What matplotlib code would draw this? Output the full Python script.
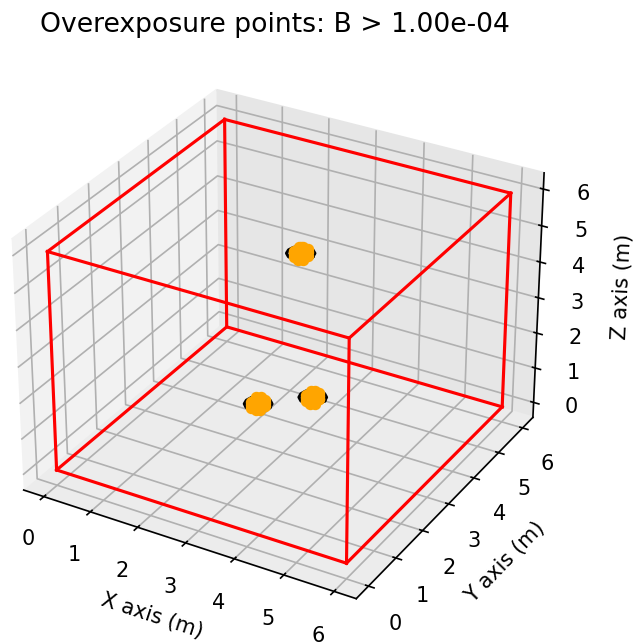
import numpy as np
import matplotlib
matplotlib.use("Agg")
import matplotlib.pyplot as plt

# room box (m)
room_x = [0, 6]
room_y = [0, 6]
room_z = [0, 6]

# source positions (m)
src_x = [3.22, 2.62, 3.37]
src_y = [3.25, 2.75, 3.45]
src_z = [5.08, 1.0, 1.0]

# loop outline offsets around each source (m)
loop_dx = [0.25, 0.22, 0.125, 0.0, -0.125, -0.22, -0.25, -0.22, -0.125, 0.0, 0.125, 0.22, 0.25]
loop_dy = [0.0, 0.125, 0.22, 0.25, 0.22, 0.125, 0.0, -0.125, -0.22, -0.25, -0.22, -0.125, 0.0]

# sample points flagged above threshold, offsets from the source (m)
hit_dx = [0.0, 0.13, -0.13, 0.0, 0.0, 0.0, 0.0, 0.09, -0.09, 0.09, -0.09, 0.09, -0.09, 0.09, -0.09,
          0.09, -0.09, 0.09, -0.09, 0.0, 0.0, 0.0, 0.0]
hit_dy = [0.0, 0.0, 0.0, 0.13, -0.13, 0.0, 0.0, 0.09, 0.09, -0.09, -0.09, 0.09, 0.09, -0.09, -0.09,
          0.09, 0.09, -0.09, -0.09, 0.09, -0.09, 0.09, -0.09]
hit_dz = [0.0, 0.0, 0.0, 0.0, 0.0, 0.16, -0.16, 0.09, 0.09, 0.09, 0.09, -0.09, -0.09, -0.09, -0.09,
          0.0, 0.0, 0.0, 0.0, 0.12, 0.12, -0.12, -0.12]

threshold = 1.0e-4

W, H = 637, 643
fig = plt.figure(figsize=(W / 150, H / 150), dpi=150)
S = 592
ax = fig.add_axes([(275 - S / 2) / W, (H - 44 - S) / H, S / W, S / H], projection="3d")

# room edges
x0, x1 = room_x
y0, y1 = room_y
z0, z1 = room_z
edges = [
    ([x0, x1], [y0, y0], [z0, z0]), ([x0, x1], [y1, y1], [z0, z0]),
    ([x0, x1], [y0, y0], [z1, z1]), ([x0, x1], [y1, y1], [z1, z1]),
    ([x0, x0], [y0, y1], [z0, z0]), ([x1, x1], [y0, y1], [z0, z0]),
    ([x0, x0], [y0, y1], [z1, z1]), ([x1, x1], [y0, y1], [z1, z1]),
    ([x0, x0], [y0, y0], [z0, z1]), ([x1, x1], [y0, y0], [z0, z1]),
    ([x0, x0], [y1, y1], [z0, z1]), ([x1, x1], [y1, y1], [z0, z1]),
]
for ex, ey, ez in edges:
    ax.plot(ex, ey, ez, color="red")

for sx, sy, sz in zip(src_x, src_y, src_z):
    ax.plot([sx + d for d in loop_dx], [sy + d for d in loop_dy], [sz] * len(loop_dx),
            color="black", linewidth=1.5)
    ax.scatter([sx + d for d in hit_dx], [sy + d for d in hit_dy], [sz + d for d in hit_dz],
               color="orange", s=20, depthshade=False)

ax.xaxis.set_pane_color((0.95, 0.95, 0.95, 1.0))
ax.yaxis.set_pane_color((0.90, 0.90, 0.90, 1.0))
ax.zaxis.set_pane_color((0.925, 0.925, 0.925, 1.0))

ax.set_xlabel("X axis (m)")
ax.set_ylabel("Y axis (m)")
ax.set_zlabel("Z axis (m)")
ax.set_title("Overexposure points: B > {:.2e}".format(threshold), fontsize=12.8)

fig.savefig("out.png", dpi=150)
